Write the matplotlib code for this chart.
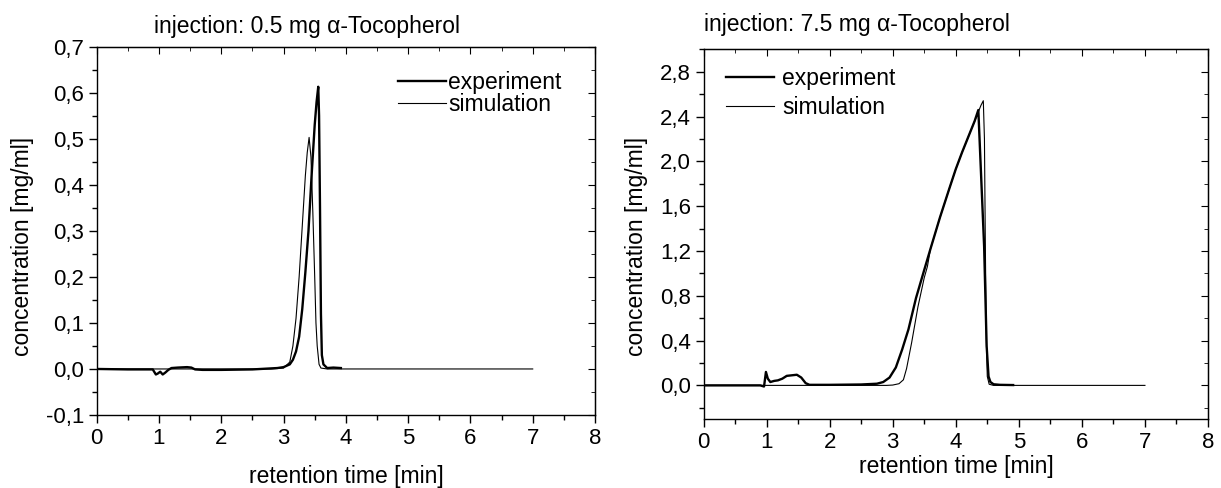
import matplotlib
matplotlib.use("Agg")
import matplotlib.pyplot as plt
from matplotlib.ticker import MultipleLocator, FuncFormatter

plt.rcParams['font.family'] = ['Liberation Sans', 'DejaVu Sans']

# 0.5 mg injection (left)
t_exp_a = [0, 0.5, 0.9, 0.95, 0.98, 1.02, 1.06, 1.1, 1.15, 1.2, 1.3, 1.45, 1.52, 1.58, 1.7,
           2.0, 2.5, 2.9, 3.0, 3.1, 3.15, 3.2, 3.25, 3.3, 3.35, 3.4, 3.45, 3.5, 3.53, 3.557,
           3.57, 3.585, 3.6, 3.615, 3.64, 3.7, 3.8, 3.92]
c_exp_a = [0, -0.001, -0.001, -0.012, -0.01, -0.006, -0.012, -0.008, -0.002, 0.002, 0.003, 0.004,
           0.003, -0.001, -0.002, -0.002, -0.001, 0.002, 0.004, 0.01, 0.02, 0.038, 0.07, 0.13, 0.21,
           0.3, 0.42, 0.53, 0.58, 0.613, 0.55, 0.35, 0.12, 0.03, 0.01, 0.002, 0.003, 0.002]
t_sim_a = [0, 2.8, 3.0, 3.1, 3.15, 3.2, 3.25, 3.3, 3.35, 3.38, 3.41, 3.44, 3.47, 3.5, 3.52,
           3.54, 3.57, 3.6, 3.7, 7]
c_sim_a = [0, 0, 0.002, 0.015, 0.05, 0.11, 0.2, 0.31, 0.42, 0.47, 0.503, 0.46, 0.34, 0.2, 0.1,
           0.05, 0.01, 0.002, 0, 0]

# 7.5 mg injection (right)
t_exp_b = [0, 0.9, 0.96, 0.99, 1.02, 1.06, 1.12, 1.18, 1.25, 1.32, 1.4, 1.48, 1.55, 1.62, 1.68,
           2.0, 2.5, 2.75, 2.85, 2.95, 3.05, 3.15, 3.25, 3.37, 3.5, 3.6, 3.75, 3.9, 4.0, 4.1, 4.2,
           4.3, 4.358, 4.4, 4.45, 4.49, 4.52, 4.55, 4.6, 4.7, 4.91]
c_exp_b = [0, 0, -0.01, 0.12, 0.06, 0.03, 0.04, 0.045, 0.06, 0.085, 0.09, 0.095, 0.07, 0.02,
           0.005, 0.005, 0.008, 0.015, 0.03, 0.07, 0.16, 0.32, 0.5, 0.78, 1.03, 1.22, 1.5, 1.76,
           1.93, 2.08, 2.22, 2.36, 2.458, 1.9, 1.24, 0.35, 0.08, 0.03, 0.01, 0.005, 0.003]
t_sim_b = [0, 2.9, 3.0, 3.1, 3.17, 3.22, 3.3, 3.4, 3.5, 3.55, 3.6, 3.75, 3.9, 4.0, 4.1, 4.2,
           4.3, 4.4, 4.437, 4.455, 4.47, 4.485, 4.5, 4.53, 4.6, 7]
c_sim_b = [0, 0, 0.003, 0.015, 0.05, 0.15, 0.38, 0.7, 0.96, 1.06, 1.22, 1.5, 1.76, 1.93, 2.08,
           2.22, 2.36, 2.5, 2.541, 2.2, 1.2, 0.4, 0.08, 0.01, 0, 0]

W, H = 1221, 488
fig = plt.figure(figsize=(W / 100, H / 100), dpi=100)
ax1 = fig.add_axes([96.7 / W, 1 - 415 / H, (595 - 96.7) / W, (415 - 46.7) / H])
ax2 = fig.add_axes([703.5 / W, 1 - 419 / H, (1208 - 703.5) / W, (419 - 49.3) / H])

comma = FuncFormatter(lambda v, p: ('%.1f' % v).replace('.', ','))
FS = 16      # tick labels
FL = 16.5    # titles / axis labels

for ax, te, ce, ts, cs in [(ax1, t_exp_a, c_exp_a, t_sim_a, c_sim_a),
                           (ax2, t_exp_b, c_exp_b, t_sim_b, c_sim_b)]:
    ax.plot(te, ce, color='black', lw=1.7, label='experiment')
    ax.plot(ts, cs, color='black', lw=0.8, label='simulation')
    ax.set_xlim(0, 8)
    ax.xaxis.set_major_locator(MultipleLocator(1))
    ax.xaxis.set_minor_locator(MultipleLocator(0.5))
    ax.tick_params(which='both', direction='out', top=False, right=False, labelsize=FS, width=1,
                   pad=3)
    ax.tick_params(which='major', length=6)
    ax.tick_params(which='minor', length=3.5)
    for s in ax.spines.values():
        s.set_linewidth(1)
    sec = ax.secondary_xaxis('top')
    sec.xaxis.set_major_locator(MultipleLocator(1))
    sec.xaxis.set_minor_locator(MultipleLocator(0.5))
    sec.tick_params(which='both', direction='in', labeltop=False)
    sec.tick_params(which='major', length=5)
    sec.tick_params(which='minor', length=3)

ax1.set_ylim(-0.1, 0.7)
ax1.yaxis.set_major_locator(MultipleLocator(0.1))
ax1.yaxis.set_minor_locator(MultipleLocator(0.05))
ax1.yaxis.set_major_formatter(comma)

ax2.set_ylim(-0.3, 3.0)
ax2.set_yticks([0, 0.4, 0.8, 1.2, 1.6, 2.0, 2.4, 2.8])
ax2.set_yticks([-0.2, 0.2, 0.6, 1.0, 1.4, 1.8, 2.2, 2.6, 3.0], minor=True)
ax2.yaxis.set_major_formatter(comma)

for ax in (ax1, ax2):
    sy = ax.secondary_yaxis('right')
    sy.set_yticks(ax.get_yticks())
    sy.set_yticks(ax.get_yticks(minor=True), minor=True)
    sy.tick_params(which='both', direction='in', labelright=False)
    sy.tick_params(which='major', length=5)
    sy.tick_params(which='minor', length=3)

ax1.legend(loc='upper left', bbox_to_anchor=((398 - 96.7) / 498.3, 1 - (71 - 46.7) / 368.3),
           frameon=False, fontsize=FL, handlelength=2.1, handletextpad=0.1,
           labelspacing=-0.05, borderpad=0, borderaxespad=0)
ax2.legend(loc='upper left', bbox_to_anchor=((726 - 703.5) / 504.5, 1 - (67 - 49.3) / 369.7),
           frameon=False, fontsize=FL, handlelength=2.1, handletextpad=0.35,
           labelspacing=0.25, borderpad=0, borderaxespad=0)

fig.text(307 / W, 1 - 27 / H, 'injection: 0.5 mg \u03b1-Tocopherol', ha='center', va='center', fontsize=FL)
fig.text(703.5 / W, 1 - 25 / H, 'injection: 7.5 mg \u03b1-Tocopherol', ha='left', va='center', fontsize=FL)
fig.text(346 / W, 1 - 477 / H, 'retention time [min]', ha='center', va='center', fontsize=FL)
fig.text(956 / W, 1 - 467 / H, 'retention time [min]', ha='center', va='center', fontsize=FL)
fig.text(23 / W, 1 - 246 / H, 'concentration [mg/ml]', ha='center', va='center', rotation=90, fontsize=FL)
fig.text(636 / W, 1 - 246 / H, 'concentration [mg/ml]', ha='center', va='center', rotation=90, fontsize=FL)

fig.savefig('out.png', dpi=100)
